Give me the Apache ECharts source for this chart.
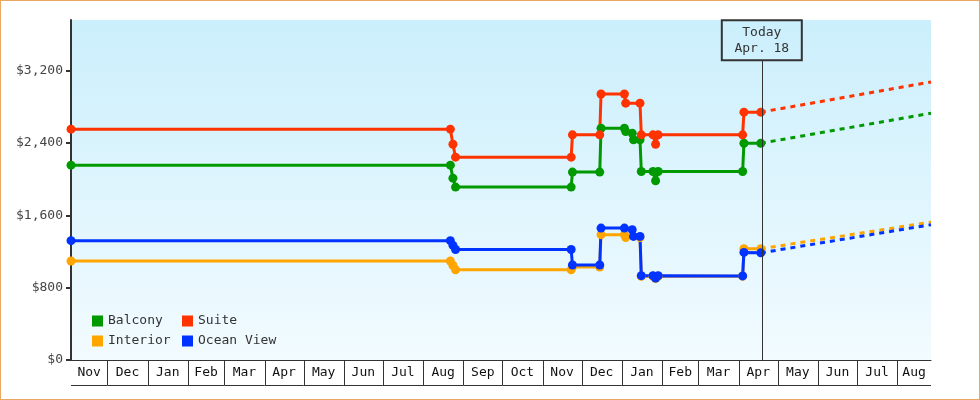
<!DOCTYPE html>
<html>
<head>
<meta charset="utf-8">
<script src="https://cdn.jsdelivr.net/npm/echarts@6/dist/echarts.min.js"></script>
<style>
  html, body { margin: 0; padding: 0; background: #fff; }
  #chart {
    width: 980px;
    height: 400px;
    outline: 1px solid #e8a862;
    outline-offset: -1px;
  }
</style>
</head>
<body>
<div id="chart"></div>
<script>
// price history, one array per cabin type
const balcony = [
  ['2008-11-03', 2155], ['2009-08-22', 2155], ['2009-08-24', 2011], ['2009-08-26', 1912],
  ['2009-11-23', 1912], ['2009-11-24', 2078], ['2009-12-15', 2078], ['2009-12-16', 2563],
  ['2010-01-03', 2563], ['2010-01-04', 2526], ['2010-01-09', 2508], ['2010-01-10', 2436],
  ['2010-01-15', 2436], ['2010-01-16', 2085], ['2010-01-25', 2085], ['2010-01-27', 1982],
  ['2010-01-29', 2085], ['2010-04-04', 2085], ['2010-04-05', 2397], ['2010-04-18', 2397]
]
const suite = [
  ['2008-11-03', 2553], ['2009-08-22', 2553], ['2009-08-24', 2386], ['2009-08-26', 2243],
  ['2009-11-23', 2243], ['2009-11-24', 2490], ['2009-12-15', 2490], ['2009-12-16', 2942],
  ['2010-01-03', 2942], ['2010-01-04', 2840], ['2010-01-15', 2840], ['2010-01-16', 2490],
  ['2010-01-25', 2490], ['2010-01-27', 2386], ['2010-01-29', 2490], ['2010-04-04', 2490],
  ['2010-04-05', 2741], ['2010-04-18', 2741]
]
const interior = [
  ['2008-11-03', 1095], ['2009-08-22', 1095], ['2009-08-24', 1045], ['2009-08-26', 998],
  ['2009-11-23', 998], ['2009-11-24', 1028], ['2009-12-15', 1028], ['2009-12-16', 1386],
  ['2010-01-03', 1386], ['2010-01-04', 1355], ['2010-01-15', 1355], ['2010-01-16', 925],
  ['2010-01-25', 925], ['2010-01-27', 900], ['2010-01-29', 925], ['2010-04-04', 925],
  ['2010-04-05', 1230], ['2010-04-18', 1230]
]
const oceanView = [
  ['2008-11-03', 1320], ['2009-08-22', 1320], ['2009-08-24', 1268], ['2009-08-26', 1222],
  ['2009-11-23', 1222], ['2009-11-24', 1050], ['2009-12-15', 1050], ['2009-12-16', 1459],
  ['2010-01-03', 1459], ['2010-01-09', 1441], ['2010-01-10', 1367], ['2010-01-15', 1367],
  ['2010-01-16', 933], ['2010-01-25', 933], ['2010-01-27', 907], ['2010-01-29', 933],
  ['2010-04-04', 930], ['2010-04-05', 1190], ['2010-04-18', 1185]
]

// projected prices (today -> end of range)
const projEnd = '2010-08-27'
const balconyProj = [['2010-04-18', 2397], [projEnd, 2729]]
const suiteProj = [['2010-04-18', 2741], [projEnd, 3075]]
const interiorProj = [['2010-04-18', 1230], [projEnd, 1525]]
const oceanViewProj = [['2010-04-18', 1185], [projEnd, 1496]]

const today = '2010-04-18T18:00'
const todayLabel = 'Today\nApr. 18'

// month cells under the plot
const monthStarts = [
  '2008-11-01', '2008-12-01', '2009-01-01', '2009-02-01', '2009-03-01', '2009-04-01',
  '2009-05-01', '2009-06-01', '2009-07-01', '2009-08-01', '2009-09-01', '2009-10-01',
  '2009-11-01', '2009-12-01', '2010-01-01', '2010-02-01', '2010-03-01', '2010-04-01',
  '2010-05-01', '2010-06-01', '2010-07-01', '2010-08-01', '2010-09-01'
]
const monthLabels = [
  'Nov', 'Dec', 'Jan', 'Feb', 'Mar', 'Apr', 'May', 'Jun', 'Jul', 'Aug', 'Sep', 'Oct',
  'Nov', 'Dec', 'Jan', 'Feb', 'Mar', 'Apr', 'May', 'Jun', 'Jul', 'Aug'
]

const yTicks = [0, 800, 1600, 2400, 3200]

const FONT = '"DejaVu Sans Mono", monospace'
const colors = {
  Balcony: '#009900',
  Suite: '#ff3300',
  Interior: '#ffa500',
  'Ocean View': '#0033ff'
}

const ts = s => echarts.time.parse(s).getTime()
const monthData = monthLabels.map((m, i) => [ts(monthStarts[i]), ts(monthStarts[i + 1])])

const chart = echarts.init(document.getElementById('chart'))

const lineSeries = (name, data) => ({
  name,
  type: 'line',
  data,
  color: colors[name],
  symbol: 'circle',
  symbolSize: 9,
  lineStyle: { width: 3, color: colors[name] },
  itemStyle: { color: colors[name] },
  emphasis: { disabled: true }
})

const projSeries = (name, data) => ({
  name,
  type: 'line',
  data,
  color: colors[name],
  showSymbol: false,
  lineStyle: { width: 3, type: [5, 5], color: colors[name] },
  emphasis: { disabled: true },
  z: 1
})

const legendText = { fontFamily: FONT, fontSize: 13, color: '#333', lineHeight: 14 }

chart.setOption({
  animation: false,
  grid: {
    left: 71,
    right: 49,
    top: 20,
    bottom: 40,
    show: true,
    borderWidth: 0,
    backgroundColor: new echarts.graphic.LinearGradient(0, 0, 0, 1, [
      { offset: 0, color: '#cbeffc' },
      { offset: 1, color: '#f2fbff' }
    ])
  },
  legend: [
    {
      data: ['Balcony', 'Interior'],
      orient: 'vertical',
      left: 92,
      top: 314,
      icon: 'rect',
      itemWidth: 11,
      itemHeight: 11,
      itemGap: 6,
      padding: 0,
      textStyle: legendText
    },
    {
      data: ['Suite', 'Ocean View'],
      orient: 'vertical',
      left: 182,
      top: 314,
      icon: 'rect',
      itemWidth: 11,
      itemHeight: 11,
      itemGap: 6,
      padding: 0,
      textStyle: legendText
    }
  ],
  xAxis: {
    type: 'time',
    min: ts('2008-11-03'),
    max: ts(projEnd),
    axisLine: { lineStyle: { color: '#333', width: 1 } },
    axisTick: { show: false },
    axisLabel: { show: false },
    splitLine: { show: false }
  },
  yAxis: {
    type: 'value',
    min: 0,
    max: 3760,
    interval: 800,
    axisLine: { show: true, lineStyle: { color: '#333', width: 2 } },
    axisTick: { show: true, length: 5, customValues: yTicks, lineStyle: { color: '#333', width: 2 } },
    axisLabel: {
      margin: 8,
      fontFamily: FONT,
      fontSize: 13,
      color: '#444',
      customValues: yTicks,
      formatter: v => '$' + v.toLocaleString('en-US')
    },
    splitLine: { show: false }
  },
  series: [
    projSeries('Balcony', balconyProj),
    projSeries('Suite', suiteProj),
    projSeries('Interior', interiorProj),
    projSeries('Ocean View', oceanViewProj),
    {
      ...lineSeries('Balcony', balcony),
      markLine: {
        silent: true,
        symbol: ['none', 'none'],
        lineStyle: { color: '#333', width: 1, type: 'solid' },
        label: {
          show: true,
          position: 'end',
          distance: 0,
          formatter: todayLabel,
          fontFamily: FONT,
          fontSize: 13,
          lineHeight: 16,
          color: '#333',
          align: 'center',
          width: 68,
          padding: [4, 6],
          borderColor: '#333',
          borderWidth: 1,
          backgroundColor: 'transparent'
        },
        data: [[{ coord: [ts(today), 0] }, { coord: [ts(today), 3315] }]]
      }
    },
    lineSeries('Suite', suite),
    lineSeries('Interior', interior),
    lineSeries('Ocean View', oceanView),
    {
      // month cells along the bottom of the plot
      type: 'custom',
      silent: true,
      clip: false,
      data: monthData,
      encode: { x: [0, 1] },
      renderItem: (params, api) => {
        const cs = params.coordSys
        const s = api.coord([api.value(0), 0])[0]
        const e = api.coord([api.value(1), 0])[0]
        const x0 = Math.max(s, cs.x)
        const x1 = Math.min(e, cs.x + cs.width)
        const yTop = cs.y + cs.height
        const yBot = yTop + 25
        const children = [
          {
            type: 'line',
            shape: { x1: x0, y1: yBot + 0.5, x2: x1, y2: yBot + 0.5 },
            style: { stroke: '#333', lineWidth: 1 }
          },
          {
            type: 'text',
            style: {
              x: (x0 + x1) / 2,
              y: yTop + 13,
              text: monthLabels[params.dataIndex],
              font: '13px ' + FONT,
              fill: '#111',
              align: 'center',
              verticalAlign: 'middle'
            }
          }
        ]
        if (e < cs.x + cs.width) {
          const xs = Math.round(x1) + 0.5
          children.push({
            type: 'line',
            shape: { x1: xs, y1: yTop, x2: xs, y2: yBot },
            style: { stroke: '#333', lineWidth: 1 }
          })
        }
        return { type: 'group', children }
      }
    }
  ]
})
</script>
</body>
</html>
